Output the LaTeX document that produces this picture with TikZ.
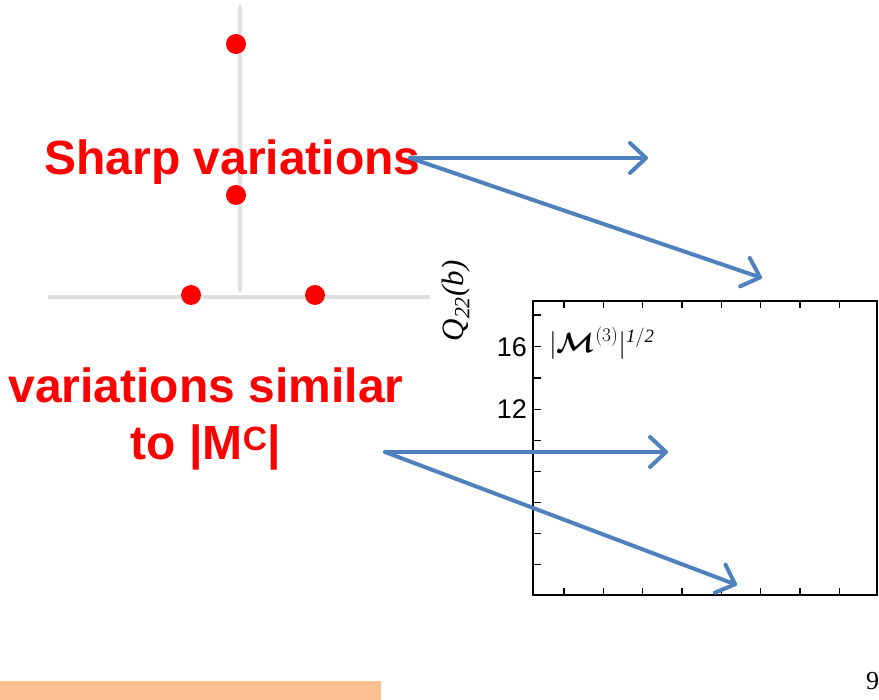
\documentclass[tikz,border=0pt]{standalone}
\usepackage{fontspec}
\usepackage{amsmath,amssymb,bm,graphicx}
\setmainfont{Liberation Serif}
\newfontfamily\arialfont{Liberation Sans}
\usetikzlibrary{arrows.meta}
\definecolor{arrowblue}{RGB}{79,129,189}
\definecolor{orangebox}{RGB}{249,193,145}
\definecolor{redtext}{RGB}{255,0,0}
\tikzset{
  bluearrow/.style={draw=arrowblue, line width=4pt, line cap=round, -{Straight Barb[length=16pt,width=30pt,round]}},
  redlabel/.style={text=redtext, font=\arialfont\bfseries\fontsize{48}{57}\selectfont, inner sep=0pt},
  reddot/.style={circle, fill=red, minimum size=20pt, inner sep=0pt},
  ticklabel/.style={font=\arialfont\fontsize{27}{30}\selectfont, inner sep=0pt},
  plotframe/.style={draw=black, line width=2pt},
  tickline/.style={draw=black, line width=1.5pt},
}
\begin{document}
\begin{tikzpicture}[x=1pt,y=-1pt]
\useasboundingbox (0,0) rectangle (879,700);
% orange box
\fill[orangebox] (0,681) rectangle (381,702);
% axes of the left sketch (white line with grey shadow)
\draw[gray!22, line width=7pt] (238,5) -- (238,296);
\draw[white, line width=4pt] (236,5) -- (236,295);
\draw[gray!25, line width=5pt] (48,297) -- (430,297);
\draw[white, line width=3pt] (48,294) -- (430,294);
% red dots
\node[reddot] (d1) at (236,44) {};
\node[reddot] (d2) at (236,195) {};
\node[reddot] (d3) at (191,295) {};
\node[reddot] (d4) at (315,295) {};
% red labels
\node[redlabel, anchor=base] (sharp) at (232.5,175) {Sharp variations};
\node[redlabel, anchor=base, align=center] (similar) at (206,460) {variations similar\\to |M\textsuperscript{C}|};
% plot frame
\draw[plotframe] (533,301) rectangle (877,595);
\foreach \x in {564,603.3,642.7,682,721.3,760.7,800,839.3}{
  \draw[tickline] (\x,301) -- (\x,308);
  \draw[tickline] (\x,595) -- (\x,588);
}
\foreach \y in {315,346.7,378,409.3,440.7,471.7,502.7,533.3,564.3}{
  \draw[tickline] (533,\y) -- (541,\y);
}
\node[ticklabel, anchor=east] (l16) at (527,347) {16};
\node[ticklabel, anchor=east] (l12) at (527,409) {12};
\node[anchor=base west, inner sep=0pt, font=\fontsize{24}{30}\selectfont] (mlab) at (549,353) {\scalebox{1.12}{$|\bm{\mathcal{M}}^{(3)}|^{\mathit{1/2}}$}};
\node[rotate=90, inner sep=0pt, font=\fontsize{31}{34}\selectfont] (qlab) at (456,301) {\textit{Q}\textsubscript{\textit{22}}\textit{(b)}};
\node[anchor=base west, inner sep=0pt, font=\fontsize{26}{30}\selectfont] (nine) at (866,689) {9};
% arrows
\coordinate (s1) at (410,158);
\coordinate (t1) at (648,158);
\coordinate (t2) at (762,278);
\coordinate (s2) at (385,452);
\coordinate (t3) at (668,452);
\coordinate (t4) at (737,585);
\draw[bluearrow] (s1) -- (t1);
\draw[bluearrow] (s1) -- (t2);
\draw[bluearrow] (s2) -- (t3);
\draw[bluearrow] (s2) -- (t4);
\end{tikzpicture}
\end{document}
